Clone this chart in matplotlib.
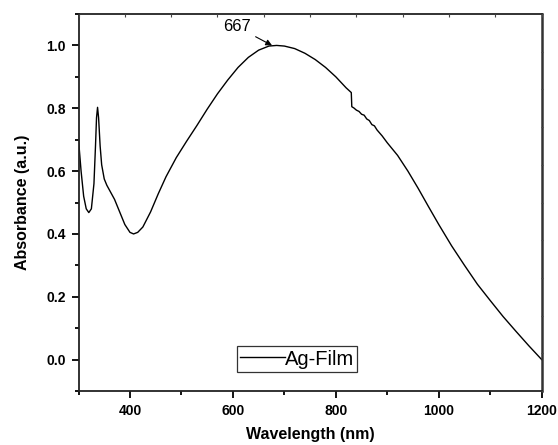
import matplotlib
matplotlib.use("Agg")
import matplotlib.pyplot as plt
import numpy as np

plt.rcParams['font.family'] = ['Liberation Sans', 'DejaVu Sans']

wavelength = [300, 305, 310, 315, 320, 325, 330, 333, 335, 337, 339, 342, 345, 350, 355,
              360, 370, 380, 390, 400, 407, 415, 425, 440, 455, 470, 490, 510, 530,
              550, 570, 590, 610, 630, 650, 670, 685, 700, 720, 740, 760, 780, 800, 820,
              830, 831, 835, 840, 845, 850, 855, 860, 865, 870, 875, 880, 890, 900,
              920, 940, 960, 980, 1000, 1025, 1050, 1075, 1100, 1125, 1150, 1175, 1200]
absorbance = [0.70, 0.60, 0.52, 0.48, 0.468, 0.48, 0.56, 0.68, 0.77, 0.803, 0.77, 0.68, 0.62,
              0.575, 0.555, 0.54, 0.51, 0.47, 0.43, 0.405, 0.40, 0.405, 0.422, 0.47, 0.528,
              0.582, 0.643, 0.695, 0.745, 0.797, 0.846, 0.89, 0.93, 0.962, 0.985, 0.998, 1.0,
              0.998, 0.99, 0.975, 0.955, 0.93, 0.90, 0.865, 0.85, 0.805, 0.801, 0.794, 0.790,
              0.781, 0.778, 0.766, 0.761, 0.748, 0.744, 0.731, 0.712, 0.690, 0.650, 0.600,
              0.545, 0.487, 0.430, 0.362, 0.300, 0.240, 0.188, 0.137, 0.090, 0.044, 0.0]

series_label = "Ag-Film"
peak_label = "667"
x_ticks = [400, 600, 800, 1000, 1200]
y_ticks = [0.0, 0.2, 0.4, 0.6, 0.8, 1.0]

fig = plt.figure(figsize=(5.58, 4.45), dpi=100)
ax = fig.add_axes([0.1407, 0.1213, 0.8301, 0.8472])

ax.plot(wavelength, absorbance, color='black', lw=1.0, label=series_label)
ax.set_xlim(300, 1200)
ax.set_ylim(-0.1, 1.1)
ax.set_xticks(x_ticks)
ax.set_xticks(np.arange(300, 1201, 100), minor=True)
ax.set_yticks(y_ticks)
ax.set_yticks(np.arange(-0.1, 1.101, 0.1), minor=True)
ax.set_yticklabels([f"{v:.1f}" for v in y_ticks])
ax.tick_params(axis='both', which='major', direction='out', length=5, width=1.3,
               labelsize=10, pad=4, top=False, right=False)
ax.tick_params(axis='both', which='minor', direction='out', length=3, width=1.3,
               top=False, right=False)
for lab in ax.get_xticklabels() + ax.get_yticklabels():
    lab.set_fontweight('bold')

ax.set_xlabel("Wavelength (nm)", fontsize=11.5, fontweight='bold', labelpad=7)
ax.set_ylabel("Absorbance (a.u.)", fontsize=11.5, fontweight='bold', labelpad=12)

for s in ['left', 'bottom', 'top']:
    ax.spines[s].set_linewidth(1.3)
    ax.spines[s].set_color('#222222')
ax.spines['right'].set_linewidth(1.8)
ax.spines['right'].set_color('#333333')

# top/right decorative ticks
axt = ax.twiny()
axt.set_xlim(0, 10)
axt.set_xticks(range(11))
axt.set_xticklabels([])
axt.tick_params(axis='x', direction='in', length=2, width=0.8, colors='#444444')
axr = ax.twinx()
axr.set_ylim(0, 10)
axr.set_yticks(range(11))
axr.set_yticklabels([])
axr.tick_params(axis='y', direction='inout', length=2, width=0.8, colors='#444444')
for a in (axt, axr):
    for s in a.spines.values():
        s.set_visible(False)

ax.annotate(peak_label, xy=(676, 1.0), xytext=(607, 1.06), fontsize=12,
            ha='center', va='center',
            arrowprops=dict(arrowstyle='-|>', color='black', lw=0.8,
                            mutation_scale=9, shrinkA=2, shrinkB=0))

leg = ax.legend(loc='center', bbox_to_anchor=(0.4717, 0.0849), fontsize=14.5,
                frameon=True, fancybox=False, handlelength=2.2, handletextpad=0.0,
                borderpad=0.15, borderaxespad=0)
leg.get_frame().set_edgecolor('black')
leg.get_frame().set_linewidth(0.9)

fig.savefig("out.png", dpi=100)
